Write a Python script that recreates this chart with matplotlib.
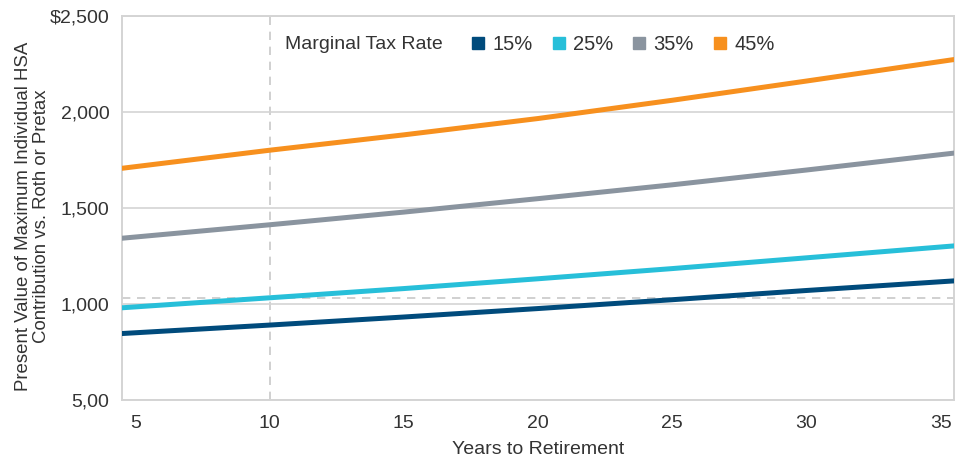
import matplotlib.pyplot as plt
from matplotlib.lines import Line2D

plt.rcParams["font.family"] = ["Liberation Sans", "DejaVu Sans"]

# data
years = [4.5, 10, 15, 20, 25, 30, 35.5]
rate_15 = [846, 890, 932, 976, 1022, 1070, 1120]
rate_25 = [980, 1032, 1080, 1131, 1184, 1240, 1302]
rate_35 = [1342, 1412, 1478, 1548, 1620, 1697, 1785]
rate_45 = [1706, 1800, 1880, 1965, 2060, 2160, 2272]

series_labels = ["15%", "25%", "35%", "45%"]
series_values = [rate_15, rate_25, rate_35, rate_45]
colors = ["#004B7C", "#27BFD9", "#8A949F", "#F7901E"]

x_ticks = [5, 10, 15, 20, 25, 30, 35]
y_ticks = [500, 1000, 1500, 2000, 2500]
y_tick_labels = ["5,00", "1,000", "1,500", "2,000", "$2,500"]

ref_year = 10
ref_value = 1032

fig = plt.figure(figsize=(9.67, 4.57), dpi=100)
ax = fig.add_axes([0.1262, 0.1247, 0.8604, 0.8409])

for vals, color in zip(series_values, colors):
    ax.plot(years, vals, color=color, lw=3.6, solid_capstyle="round", zorder=3)

ax.axvline(ref_year, color="#C8C8C8", lw=1.2, ls=(0, (5, 4)), zorder=1)
ax.axhline(ref_value, color="#C8C8C8", lw=1.2, ls=(0, (5, 4)), zorder=1)

ax.set_xlim(4.5, 35.5)
ax.set_ylim(500, 2500)
ax.set_xticks(x_ticks)
ax.set_yticks(y_ticks)
ax.set_yticklabels(y_tick_labels)
ax.tick_params(length=0, labelsize=14, colors="#333333")
ax.tick_params(axis="y", pad=9)
ax.tick_params(axis="x", pad=11)
ax.grid(axis="y", color="#D4D4D4", lw=1.2, zorder=0)

for s in ax.spines.values():
    s.set_color("#D4D4D4")
    s.set_linewidth(1.4)

ax.set_xlabel("Years to Retirement", fontsize=14, color="#333333", labelpad=6)
ax.set_ylabel("Present Value of Maximum Individual HSA\nContribution vs. Roth or Pretax",
              fontsize=13.4, color="#333333", linespacing=1.12)
ax.yaxis.set_label_coords(-0.086, 0.478)

handles = [Line2D([], [], marker="s", ls="", color=c, markersize=8) for c in colors]
ax.text(0.196, 0.925, "Marginal Tax Rate", transform=ax.transAxes, fontsize=14,
        color="#333333", ha="left", va="center")
ax.legend(handles, series_labels, ncol=4, loc="center left", bbox_to_anchor=(0.421, 0.925),
          frameon=False, fontsize=14.5, handlelength=0.6, handletextpad=0.4,
          columnspacing=1.0, labelcolor="#333333", borderaxespad=0, borderpad=0)

fig.savefig("out.png", dpi=100)
